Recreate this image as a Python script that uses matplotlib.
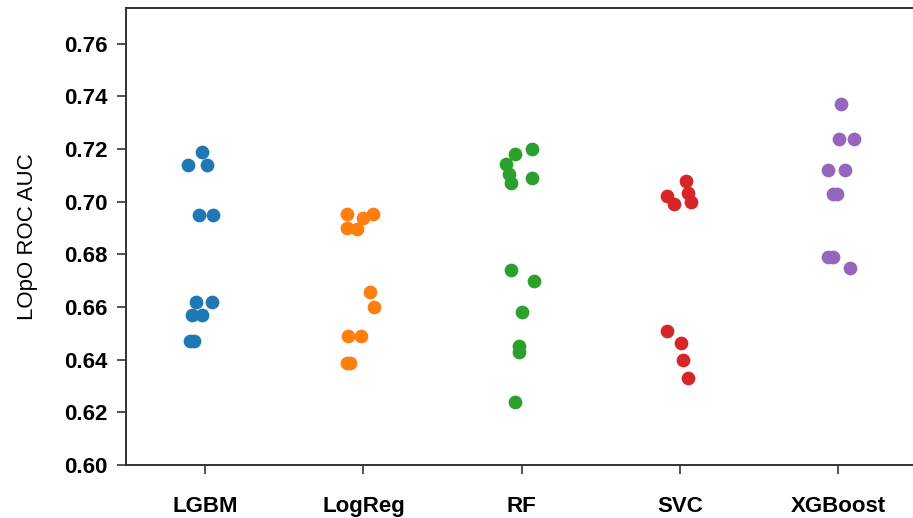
import matplotlib
matplotlib.use("Agg")
from matplotlib import pyplot as plt

plt.rcParams['font.family'] = ['Liberation Sans', 'DejaVu Sans']

models = ['LGBM', 'LogReg', 'RF', 'SVC', 'XGBoost']
colors = ['#1f77b4', '#ff7f0e', '#2ca02c', '#d62728', '#9467bd']

# LOpO ROC AUC per fold
lgbm_auc = [0.719, 0.714, 0.714, 0.695, 0.695, 0.662, 0.662, 0.657, 0.657, 0.647, 0.647]
logreg_auc = [0.6953, 0.6939, 0.6952, 0.6899, 0.6896, 0.6658, 0.6599, 0.649, 0.649, 0.6389, 0.6389]
rf_auc = [0.7199, 0.718, 0.7142, 0.7105, 0.707, 0.7089, 0.6741, 0.6699, 0.658, 0.6452, 0.6428, 0.624]
svc_auc = [0.708, 0.7022, 0.7032, 0.700, 0.699, 0.651, 0.6462, 0.6399, 0.6329]
xgb_auc = [0.737, 0.7237, 0.7237, 0.712, 0.712, 0.7029, 0.7029, 0.6791, 0.6791, 0.6749]

# horizontal strip jitter (category units)
lgbm_jit = [-0.021, -0.108, 0.011, -0.038, 0.052, -0.059, 0.042, -0.084, -0.021, -0.097, -0.068]
logreg_jit = [-0.101, -0.002, 0.061, -0.105, -0.038, 0.040, 0.068, -0.097, -0.016, -0.107, -0.086]
rf_jit = [0.062, -0.041, -0.100, -0.079, -0.068, 0.062, -0.068, 0.075, 0.001, -0.016, -0.016, -0.041]
svc_jit = [0.039, -0.081, 0.049, 0.071, -0.039, -0.081, 0.003, 0.018, 0.049]
xgb_jit = [0.016, 0.005, 0.098, -0.065, 0.041, -0.035, -0.010, -0.065, -0.037, 0.073]

aucs = [lgbm_auc, logreg_auc, rf_auc, svc_auc, xgb_auc]
jits = [lgbm_jit, logreg_jit, rf_jit, svc_jit, xgb_jit]

fig = plt.figure(figsize=(9.13, 5.18), dpi=100)
ax = fig.add_axes([0.138, 0.1023, 0.867, 0.8823])

for i in range(len(models)):
  xs = [i + j for j in jits[i]]
  ax.scatter(xs, aucs[i], s=98, color=colors[i], linewidths=0, zorder=3)

ax.set_xlim(-0.5, 4.5)
ax.set_ylim(0.60, 0.7736)
ax.set_xticks(range(len(models)))
ax.set_xticklabels(models, fontsize=16, fontweight='bold')
ax.set_yticks([0.60, 0.62, 0.64, 0.66, 0.68, 0.70, 0.72, 0.74, 0.76])
ax.set_yticklabels(['%.2f' % v for v in ax.get_yticks()], fontsize=16, fontweight='bold')
ax.tick_params(axis='x', length=6.5, width=1.2, pad=16, color='#333333')
ax.tick_params(axis='y', length=6.5, width=1.2, pad=6.5, color='#333333')
ax.set_ylabel('LOpO ROC AUC', fontsize=16, labelpad=19)

for sp in ax.spines.values():
  sp.set_linewidth(1.4)
  sp.set_color('#333333')

fig.savefig('out.png', dpi=100)
